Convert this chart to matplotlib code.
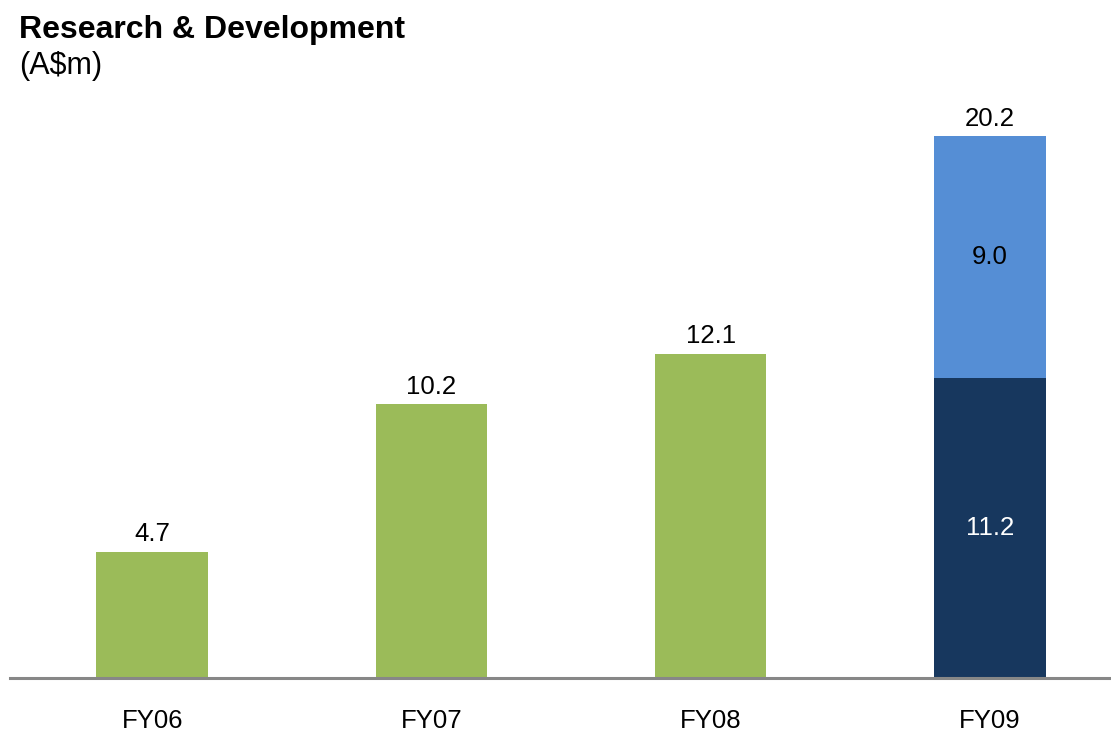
import matplotlib
matplotlib.use("Agg")
import matplotlib.pyplot as plt

plt.rcParams["font.family"] = ["Liberation Sans", "DejaVu Sans"]

# Research & Development spend (A$m)
anos = ["FY06", "FY07", "FY08", "FY09"]
total = [4.7, 10.2, 12.1, 20.2]
base_fy09 = 11.2
extra_fy09 = 9.0

verde = "#9BBB59"
azul_claro = "#558ED5"
azul_escuro = "#17375E"

fig = plt.figure(figsize=(11.11, 7.37), dpi=100)
ax = fig.add_axes([10 / 1111, 1 - 678 / 737, 1101 / 1111, 590 / 737])

x = list(range(len(anos)))
largura = 0.40

# anos anteriores: barra única verde
ax.bar(x[:3], total[:3], width=largura, color=verde)
# FY09 dividido em duas partes
ax.bar(x[3], base_fy09, width=largura, color=azul_escuro)
ax.bar(x[3], extra_fy09, width=largura, bottom=base_fy09, color=azul_claro)

for xi, v in zip(x, total):
    ax.annotate(f"{v:.1f}", (xi, v), textcoords="offset points", xytext=(0, 4),
                ha="center", va="bottom", fontsize=18.5)

ax.text(x[3], base_fy09 / 2, f"{base_fy09:.1f}", ha="center", va="center",
        fontsize=18.5, color="white")
ax.text(x[3], base_fy09 + extra_fy09 / 2, f"{extra_fy09:.1f}", ha="center",
        va="center", fontsize=18.5, color="black")

ax.set_xlim(-142 / 279, 3 + 121 / 279)
ax.set_ylim(0, 22)
ax.set_xticks(x)
ax.set_xticklabels(anos, fontsize=18.5)
ax.tick_params(axis="x", length=0, pad=22)
ax.set_yticks([])
for lado in ["top", "right", "left"]:
    ax.spines[lado].set_visible(False)
ax.spines["bottom"].set_color("#878787")
ax.spines["bottom"].set_linewidth(2.2)

fig.text(19 / 1111, 1 - 38 / 737, "Research & Development", fontsize=23,
         fontweight="bold", ha="left", va="baseline")
fig.text(19 / 1111, 1 - 74 / 737, "(A$m)", fontsize=22, ha="left", va="baseline")

plt.savefig("out.png", dpi=100)
plt.close()
